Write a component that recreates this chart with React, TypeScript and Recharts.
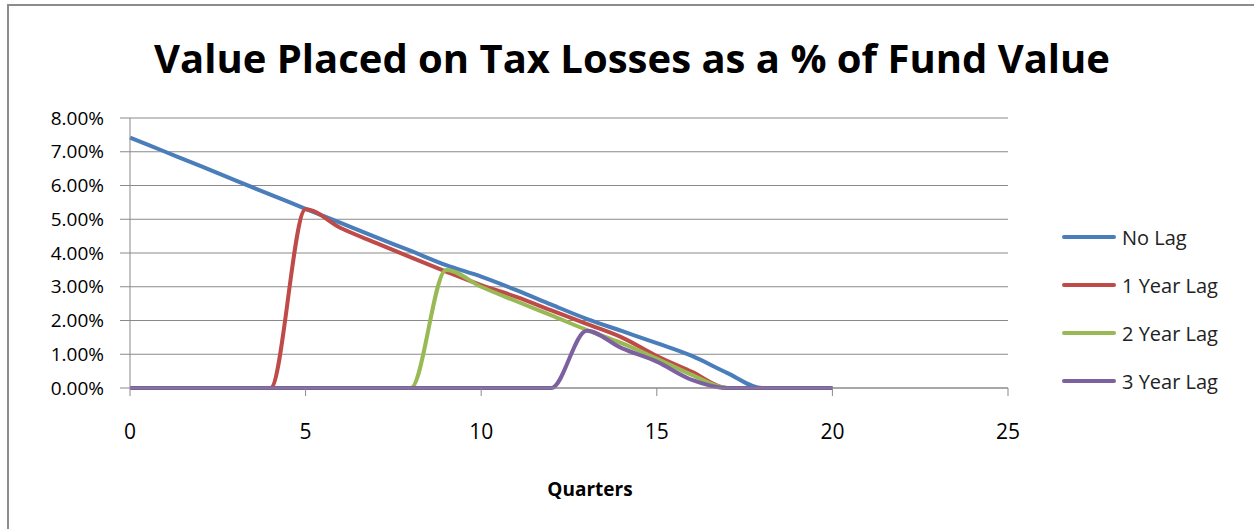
import React from 'react';
import { LineChart, Line, XAxis, YAxis, CartesianGrid } from 'recharts';

const quarters = [0, 1, 2, 3, 4, 5, 6, 7, 8, 9, 10, 11, 12, 13, 14, 15, 16, 17, 18, 19, 20];
const noLag = [7.42, 7.0, 6.58, 6.15, 5.73, 5.31, 4.89, 4.47, 4.06, 3.64, 3.3, 2.9, 2.47, 2.05, 1.69, 1.33, 0.95, 0.45, 0, 0, 0];
const lag1 = [0, 0, 0, 0, 0, 5.3, 4.74, 4.3, 3.87, 3.45, 3.05, 2.7, 2.3, 1.9, 1.5, 0.95, 0.48, 0, 0, 0, 0];
const lag2 = [0, 0, 0, 0, 0, 0, 0, 0, 0, 3.5, 3.0, 2.57, 2.15, 1.72, 1.33, 0.87, 0.39, 0, 0, 0, 0];
const lag3 = [0, 0, 0, 0, 0, 0, 0, 0, 0, 0, 0, 0, 0, 1.7, 1.18, 0.78, 0.24, 0, 0, 0, 0];

const seriesNames = ['No Lag', '1 Year Lag', '2 Year Lag', '3 Year Lag'];
const seriesColors = ['#4A7EBB', '#BE4B48', '#98B954', '#7D60A0'];
const seriesValues = [noLag, lag1, lag2, lag3];
const xTicks = [0, 5, 10, 15, 20, 25];
const yTicks = [0, 1, 2, 3, 4, 5, 6, 7, 8];

const title = 'Value Placed on Tax Losses as a % of Fund Value';
const xLabel = 'Quarters';

const data = quarters.map((q, i) => {
  const row: Record<string, number> = { q };
  seriesNames.forEach((n, s) => {
    row[n] = seriesValues[s][i];
  });
  return row;
});

const font = '"Open Sans", sans-serif';

export default function App() {
  return (
    <div style={{ position: 'absolute', left: 0, top: 0, width: 1254, height: 529, overflow: 'hidden', background: '#fff' }}>
      <div style={{ position: 'absolute', left: 7, top: 4, width: 1270, height: 560, border: '2px solid #8c8c8c', boxSizing: 'border-box' }} />
      <div style={{ position: 'absolute', left: 0, top: 30, width: 1264, textAlign: 'center', fontFamily: '"Liberation Sans Narrow", "Open Sans", sans-serif', fontWeight: 'bold', fontSize: 40, color: '#000' }}>
        {title}
      </div>
      <div style={{ position: 'absolute', left: 0, top: 0 }}>
        <LineChart width={1254} height={529} data={data} margin={{ top: 118, right: 246, bottom: 81, left: 0 }}>
          <CartesianGrid vertical={false} stroke="#8a8a8a" strokeWidth={1} />
          <XAxis
            dataKey="q"
            type="number"
            domain={[0, 25]}
            ticks={xTicks}
            interval={0}
            height={60}
            stroke="#8a8a8a"
            tickSize={8}
            tick={{ fill: '#000', fontSize: 21, fontFamily: font }}
            tickMargin={28}
          />
          <YAxis
            type="number"
            domain={[0, 8]}
            ticks={yTicks}
            interval={0}
            width={130}
            stroke="#8a8a8a"
            tickSize={10}
            tickFormatter={(v: number) => v.toFixed(2) + '%'}
            tick={{ fill: '#000', fontSize: 19, fontFamily: font }}
            tickMargin={16}
          />
          {seriesNames.map((n, s) => (
            <Line
              key={n}
              dataKey={n}
              type="monotone"
              stroke={seriesColors[s]}
              strokeWidth={4}
              dot={false}
              isAnimationActive={false}
            />
          ))}
        </LineChart>
      </div>
      <div style={{ position: 'absolute', left: 0, top: 476, width: 1180, textAlign: 'center', fontFamily: font, fontWeight: 'bold', fontSize: 19, color: '#000' }}>
        {xLabel}
      </div>
      <div style={{ position: 'absolute', left: 1062, top: 213 }}>
        {seriesNames.map((n, s) => (
          <div key={n} style={{ display: 'flex', alignItems: 'center', height: 48 }}>
            <div style={{ width: 54, height: 4, borderRadius: 2, background: seriesColors[s], marginRight: 6 }} />
            <span style={{ fontFamily: font, fontSize: 20, color: '#222' }}>{n}</span>
          </div>
        ))}
      </div>
    </div>
  );
}
